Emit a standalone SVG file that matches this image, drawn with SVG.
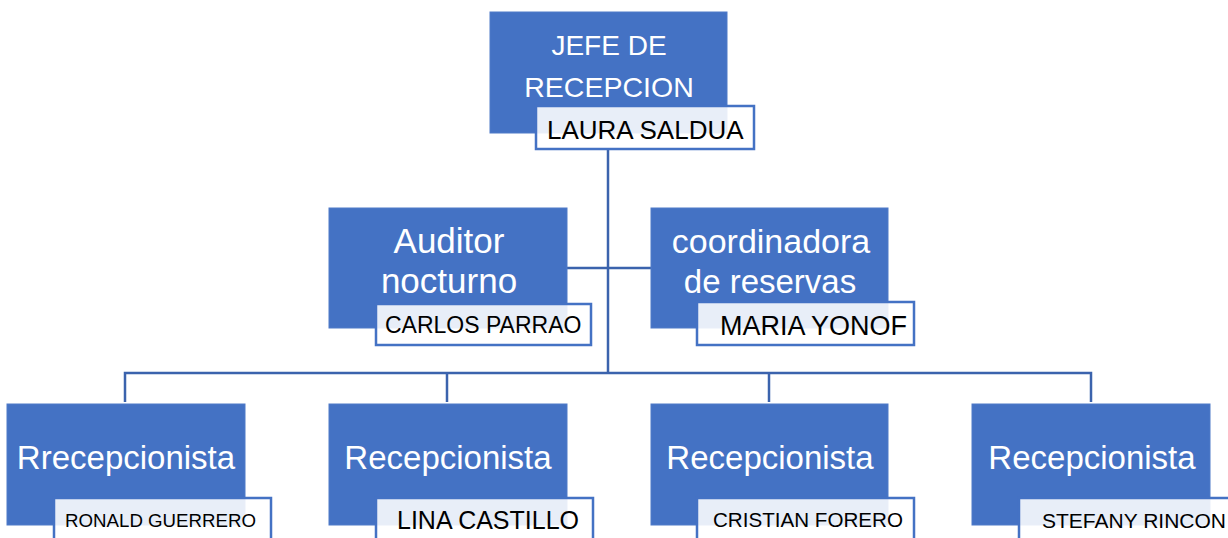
<svg xmlns="http://www.w3.org/2000/svg" width="1228" height="538" viewBox="0 0 1228 538">
<style>
.box{fill:#4472c4;stroke:#4f7ac8;stroke-width:1}
.name{fill:#ffffff;fill-opacity:0.88;stroke:#4472c4;stroke-width:2.5}
.t{fill:#ffffff;font-family:"Liberation Sans",Arial,sans-serif;text-anchor:middle}
.n{fill:#000000;font-family:"Liberation Sans",Arial,sans-serif}
.c{fill:none;stroke:#3b63ad;stroke-width:2.5}
</style>
<rect width="1228" height="538" fill="#ffffff"/>
<g id="connectors">
<line class="c" x1="608" y1="149" x2="608" y2="374"/>
<line class="c" x1="567" y1="268" x2="651" y2="268"/>
<polyline class="c" points="125,402 125,373 1091,373 1091,402"/>
<line class="c" x1="447" y1="373" x2="447" y2="402"/>
<line class="c" x1="769" y1="373" x2="769" y2="402"/>
</g>
<g id="jefe">
<rect class="box" x="490" y="12" width="237" height="121"/>
<text class="t" x="609" y="55" font-size="28">JEFE DE</text>
<text class="t" x="609" y="97" font-size="28.5">RECEPCION</text>
<rect class="name" x="536" y="106" width="218" height="43"/>
<text class="n" x="547" y="139" font-size="26">LAURA SALDUA</text>
</g>
<g id="auditor">
<rect class="box" x="329" y="208" width="238" height="120"/>
<text class="t" x="449" y="253" font-size="35">Auditor</text>
<text class="t" x="449" y="293" font-size="35">nocturno</text>
<rect class="name" x="376" y="304" width="215" height="41"/>
<text class="n" x="385" y="333" font-size="23">CARLOS PARRAO</text>
</g>
<g id="coordinadora">
<rect class="box" x="651" y="208" width="237" height="120"/>
<text class="t" x="771" y="253" font-size="34">coordinadora</text>
<text class="t" x="770" y="293" font-size="33">de reservas</text>
<rect class="name" x="697" y="302" width="217" height="43"/>
<text class="n" x="720" y="335" font-size="27">MARIA YONOF</text>
</g>
<g id="recep1">
<rect class="box" x="7" y="404" width="238" height="121"/>
<text class="t" x="126" y="469" font-size="33">Rrecepcionista</text>
<rect class="name" x="54" y="498" width="217" height="43"/>
<text class="n" x="65" y="527" font-size="18.7">RONALD GUERRERO</text>
</g>
<g id="recep2">
<rect class="box" x="329" y="404" width="238" height="121"/>
<text class="t" x="448" y="469" font-size="33">Recepcionista</text>
<rect class="name" x="376" y="498" width="217" height="43"/>
<text class="n" x="397" y="529" font-size="25">LINA CASTILLO</text>
</g>
<g id="recep3">
<rect class="box" x="651" y="404" width="237" height="121"/>
<text class="t" x="770" y="469" font-size="33">Recepcionista</text>
<rect class="name" x="697" y="498" width="217" height="43"/>
<text class="n" x="713" y="527" font-size="20.6">CRISTIAN FORERO</text>
</g>
<g id="recep4">
<rect class="box" x="972" y="404" width="238" height="121"/>
<text class="t" x="1092" y="469" font-size="33">Recepcionista</text>
<rect class="name" x="1019" y="498" width="217" height="43"/>
<text class="n" x="1042" y="528" font-size="21">STEFANY RINCON</text>
</g>
</svg>
